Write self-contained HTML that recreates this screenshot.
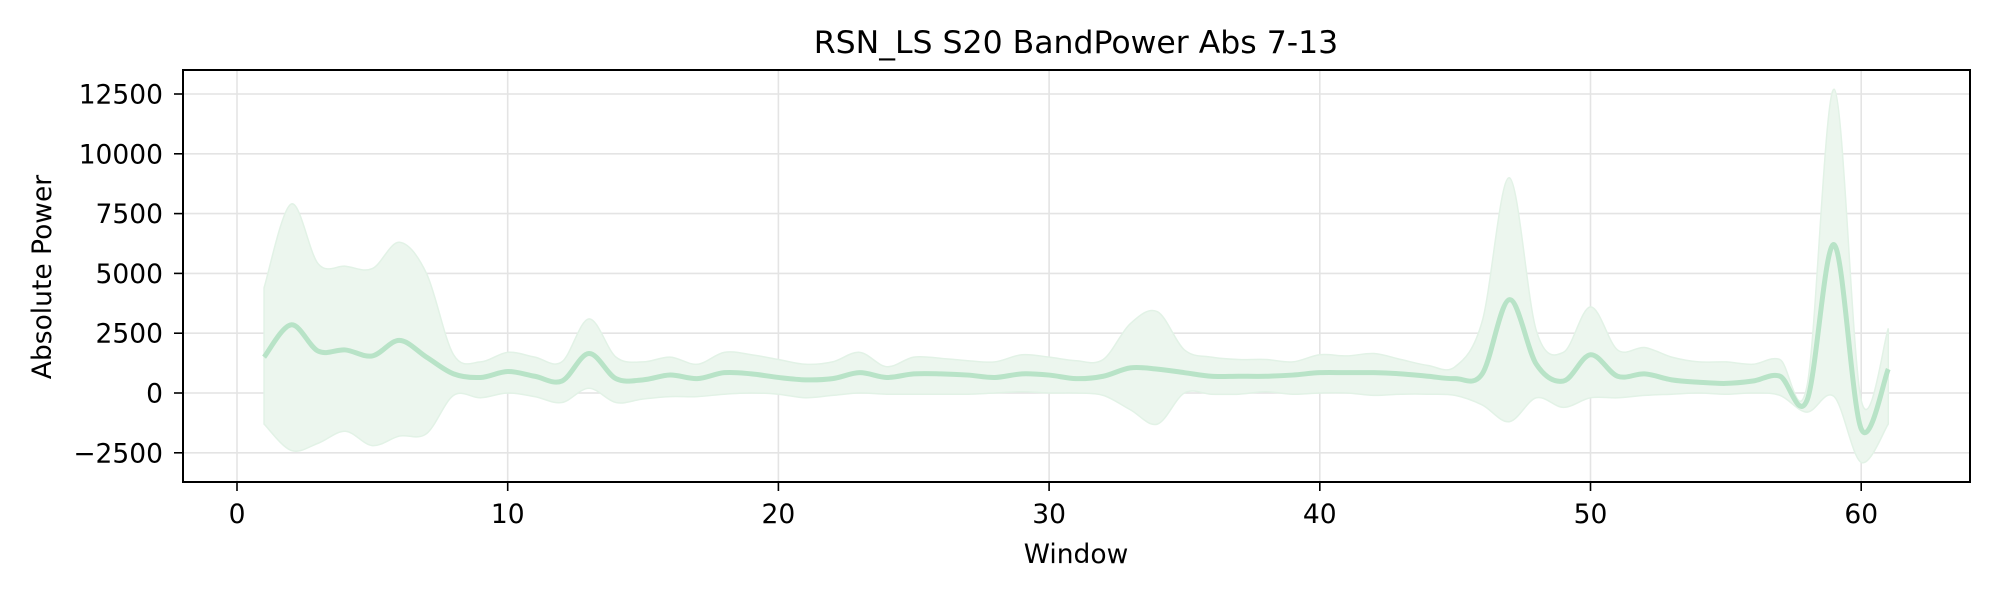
<!DOCTYPE html>
<html><head><meta charset="utf-8"><style>
body{margin:0;background:#fff;}
svg{display:block;font-family:"DejaVu Sans","Liberation Sans",sans-serif;}
</style></head><body>
<svg id="chart" width="2000" height="600" viewBox="0 0 2000 600">
<text x="1076" y="53" font-size="31.5" text-anchor="middle">RSN_LS S20 BandPower Abs 7-13</text>
<text x="1076" y="563" font-size="26.5" text-anchor="middle">Window</text>
<text transform="translate(51,277) rotate(-90)" font-size="26.5" text-anchor="middle">Absolute Power</text>
<g id="grid"></g><g id="series"></g><g id="axes"></g>
</svg>
<script>
const xTicks=[0,10,20,30,40,50,60];
const yTicks=[-2500,0,2500,5000,7500,10000,12500];
const yTickLabels=["\u22122500","0","2500","5000","7500","10000","12500"];
const windows=[1,2,3,4,5,6,7,8,9,10,11,12,13,14,15,16,17,18,19,20,21,22,23,24,25,26,27,28,29,30,31,32,33,34,35,36,37,38,39,40,41,42,43,44,45,46,47,48,49,50,51,52,53,54,55,56,57,58,59,60,61];
const meanPower=[1500,2850,1750,1800,1550,2200,1500,800,650,900,700,500,1650,600,550,750,600,850,800,650,550,600,850,650,800,800,750,650,800,750,600,700,1050,1000,850,700,700,700,750,850,850,850,800,700,600,800,3900,1200,500,1600,700,800,550,450,400,500,700,-300,6200,-1500,1000];
const upperBand=[4400,7900,5400,5300,5200,6300,5000,1600,1300,1700,1500,1300,3100,1500,1300,1500,1200,1700,1600,1400,1200,1300,1700,1100,1500,1450,1350,1300,1600,1500,1350,1400,2900,3400,1800,1500,1400,1400,1300,1600,1550,1650,1400,1150,1100,3000,9000,2600,1700,3600,1800,1900,1500,1300,1300,1200,1400,300,12700,-300,2700];
const lowerBand=[-1300,-2400,-2100,-1600,-2200,-1800,-1700,-100,-200,0,-150,-400,200,-400,-250,-150,-150,-50,0,-50,-200,-100,0,-50,-50,-50,-50,0,50,0,0,-100,-700,-1300,0,-50,-50,50,-50,0,0,-100,-50,-50,-100,-500,-1200,-200,-600,-200,-200,-100,-50,0,-50,0,-100,-800,-150,-2900,-1300];

const L=183,R=1970,T=70,B=482;
const X=v=>237+v*27.07;
const Y=v=>393-v*0.02392;
const NS='http://www.w3.org/2000/svg';
function mk(tag,attrs,parent){const e=document.createElementNS(NS,tag);for(const k in attrs)e.setAttribute(k,attrs[k]);parent.appendChild(e);return e;}
function spline(xs,ys){
  const p=xs.map((x,i)=>[X(x),Y(ys[i])]);
  let d='';
  for(let i=0;i<p.length-1;i++){
    const p0=p[Math.max(0,i-1)],p1=p[i],p2=p[i+1],p3=p[Math.min(p.length-1,i+2)];
    const c1=[p1[0]+(p2[0]-p0[0])/6,p1[1]+(p2[1]-p0[1])/6];
    const c2=[p2[0]-(p3[0]-p1[0])/6,p2[1]-(p3[1]-p1[1])/6];
    if(i===0)d+='M'+p1[0]+','+p1[1];
    d+=' C'+c1+' '+c2+' '+p2;
  }
  return d;
}
const grid=document.getElementById('grid'),series=document.getElementById('series'),axes=document.getElementById('axes');
xTicks.forEach(t=>{
  const g=mk('line',{x1:X(t),x2:X(t),y1:T,y2:B,stroke:'#e4e4e4','stroke-width':1.6},grid);
  
  
  const tk=mk('line',{x1:X(t),x2:X(t),y1:B,y2:B+9,stroke:'#000','stroke-width':1.6},axes);
  
  
  const lb=mk('text',{x:X(t),y:B+41,'font-size':26.5,'text-anchor':'middle'},axes);
  lb.textContent=t;
  
  
});
yTicks.forEach((t,i)=>{
  const g=mk('line',{x1:L,x2:R,y1:Y(t),y2:Y(t),stroke:'#e4e4e4','stroke-width':1.6},grid);
  
  
  const tk=mk('line',{x1:L-9,x2:L,y1:Y(t),y2:Y(t),stroke:'#000','stroke-width':1.6},axes);
  
  
  const lb=mk('text',{x:L-20,y:Y(t)+9.5,'font-size':26.5,'text-anchor':'end'},axes);
  lb.textContent=yTickLabels[i];
  
  
});
const up=spline(windows,upperBand);
const revW=windows.slice().reverse(),revL=lowerBand.slice().reverse();
const lo=spline(revW,revL).replace(/^M/,' L');
const band=mk('path',{d:up+lo+' Z',fill:'#ecf6ee',stroke:'#e2f2e6','stroke-width':1.5},series);


const line=mk('path',{d:spline(windows,meanPower),fill:'none',stroke:'#b8e3c7','stroke-width':5,'stroke-linecap':'butt'},series);


const frame=mk('rect',{x:L,y:T,width:R-L,height:B-T,fill:'none',stroke:'#000','stroke-width':2},axes);


</script>
</body></html>
